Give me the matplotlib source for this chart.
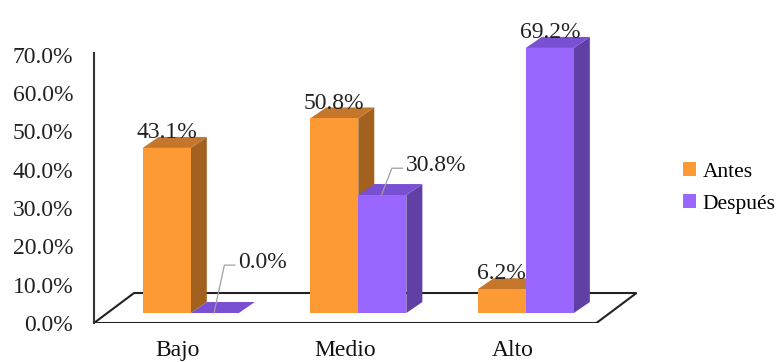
import matplotlib
matplotlib.use("Agg")
import matplotlib.pyplot as plt
from matplotlib.patches import Polygon, Patch
import numpy as np

categories = ["Bajo", "Medio", "Alto"]
antes = [43.1, 50.8, 6.2]
despues = [0.0, 30.8, 69.2]
yticks = [0, 10, 20, 30, 40, 50, 60, 70]

plt.rcParams['font.family'] = ['Liberation Serif', 'DejaVu Serif']
plt.rcParams['font.size'] = 17

c_antes = ('#FD9A33', '#C4762B', '#A3611F')    # front, top, side
c_desp = ('#9966FF', '#7A50D2', '#6140A6')

fig = plt.figure(figsize=(7.77, 3.62), dpi=100)
ax = fig.add_axes([94/777, 39/362, 546/777, 302.6/362])
ax.set_xlim(-0.5, 2.76)
ax.set_ylim(0, 79)

# 3d-ish geometry (data units)
floor_dx, floor_dy = 0.239, 7.83
off_dx, off_dy = 0.078, 2.61       # bar front plane offset
bd_dx, bd_dy = 0.0955, 2.87        # bar depth
w = 0.287

floor = Polygon([(-0.5, 0), (2.5, 0), (2.5 + floor_dx, floor_dy), (-0.5 + floor_dx, floor_dy)],
                closed=True, facecolor='white', edgecolor='#222222', lw=1.5, zorder=1)
ax.add_patch(floor)

def bar3d(x0, v, cols):
    b = off_dy
    front = [(x0, b), (x0 + w, b), (x0 + w, b + v), (x0, b + v)]
    top = [(x0, b + v), (x0 + w, b + v), (x0 + w + bd_dx, b + v + bd_dy), (x0 + bd_dx, b + v + bd_dy)]
    side = [(x0 + w, b), (x0 + w + bd_dx, b + bd_dy), (x0 + w + bd_dx, b + v + bd_dy), (x0 + w, b + v)]
    ax.add_patch(Polygon(side, closed=True, facecolor=cols[2], edgecolor='none', zorder=2))
    ax.add_patch(Polygon(top, closed=True, facecolor=cols[1], edgecolor='none', zorder=2))
    if v > 0:
        ax.add_patch(Polygon(front, closed=True, facecolor=cols[0], edgecolor='none', zorder=2))

for i in range(len(categories)):
    c = i + off_dx
    bar3d(c - w, antes[i], c_antes)
    bar3d(c, despues[i], c_desp)

# data labels
for i in range(len(categories)):
    c = i + off_dx
    for x0, v in [(c - w, antes[i]), (c, despues[i])]:
        xc = x0 + w / 2
        if v > 35 or x0 < c - 0.01:
            ax.text(xc, off_dy + v + bd_dy - 0.3, f"{v:.1f}%", ha='center', va='baseline',
                    color='#222222', zorder=5)
        else:
            up = 7.0 if v > 0 else 12.5
            y0 = off_dy + v
            ex, ey = xc + 0.057, y0 + up
            ax.plot([xc - 0.005, ex, ex + 0.063], [y0, ey, ey], color='#a0a0a0', lw=0.9, zorder=4,
                    clip_on=False)
            ax.text(ex + 0.082, ey + 0.6, f"{v:.1f}%", ha='left', va='center', color='#222222', zorder=5)

# axes styling
for s in ['top', 'right', 'bottom']:
    ax.spines[s].set_visible(False)
ax.spines['left'].set_bounds(0, 70.5)
ax.spines['left'].set_color('#333333')
ax.spines['left'].set_linewidth(1.5)
ax.set_yticks(yticks)
ax.set_yticklabels([f"{v:.1f}%" for v in yticks], color='#222222')
ax.tick_params(axis='y', length=0, pad=15)
ax.set_xticks(range(len(categories)))
ax.set_xticklabels(categories, color='#111111')
ax.tick_params(axis='x', length=0, pad=12)
ax.patch.set_alpha(0)

handles = [Patch(facecolor=c_antes[0], label='Antes'), Patch(facecolor=c_desp[0], label='Después')]
fig.legend(handles=handles, loc='center left', bbox_to_anchor=(683/777, 1 - 188/362),
           frameon=False, handlelength=0.6, handleheight=0.6, handletextpad=0.3, labelspacing=0.6,
           borderpad=0, borderaxespad=0, fontsize=15.5)

fig.savefig("out.png", dpi=100)
